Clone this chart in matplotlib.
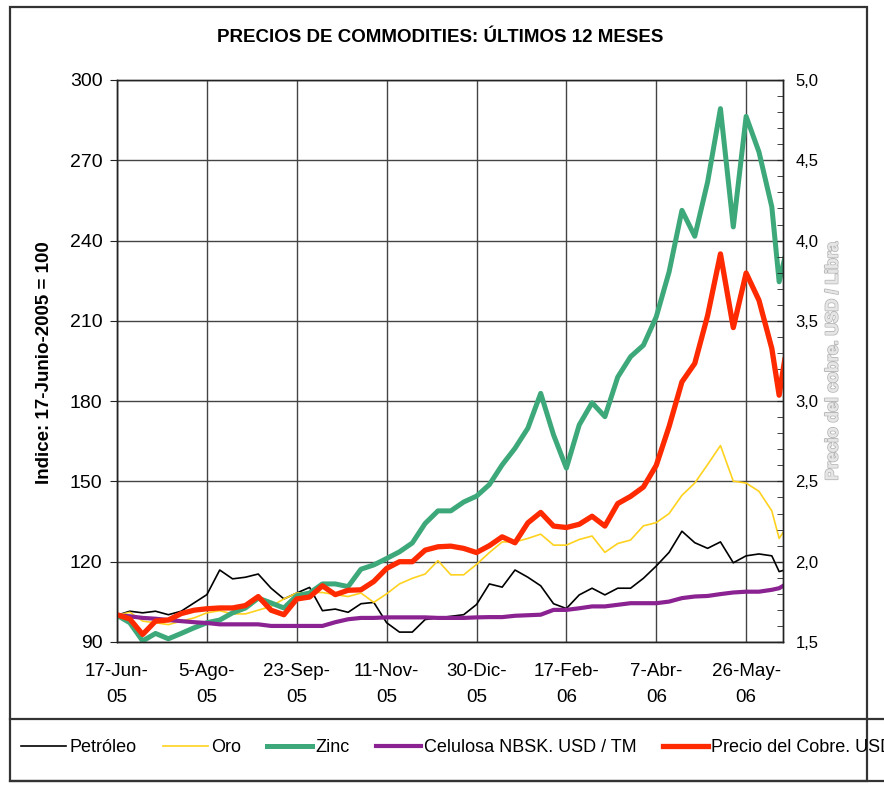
import pandas as pd
import matplotlib
matplotlib.use("Agg")
from matplotlib import pyplot as plt
from matplotlib import patheffects
from matplotlib.lines import Line2D
from matplotlib.patches import Rectangle
from matplotlib.ticker import MultipleLocator, FuncFormatter

plt.rcParams['font.family'] = ['Liberation Sans', 'DejaVu Sans']

# fechas semanales (viernes) + dos datos de la ultima semana
fechas = list(pd.date_range('2005-06-17', periods=52, freq='7D')) + \
    [pd.Timestamp('2006-06-13'), pd.Timestamp('2006-06-16')]

fechas_ticks = ['2005-06-17', '2005-08-05', '2005-09-23', '2005-11-11',
                '2005-12-30', '2006-02-17', '2006-04-07', '2006-05-26']
etiquetas_x = ['17-Jun-\n05', '5-Ago-\n05', '23-Sep-\n05', '11-Nov-\n05',
               '30-Dic-\n05', '17-Feb-\n06', '7-Abr-\n06', '26-May-\n06']

# indices 17-Jun-2005 = 100
petroleo = [100, 101.5, 100.9, 101.5, 100.2, 101.5, 104.6, 107.7, 116.9, 113.6,
            114.2, 115.4, 110.1, 106.1, 108.3, 110.4, 101.7, 102.3, 101.1, 104.3,
            104.8, 97.2, 93.7, 93.7, 98.4, 99.0, 99.6, 100.2, 104.0, 111.7,
            110.5, 116.9, 114.2, 111.0, 104.3, 102.5, 107.6, 110.1, 107.6, 110.1,
            110.1, 113.8, 118.4, 123.5, 131.4, 127.1, 125.0, 127.4, 119.6, 122.2,
            122.9, 122.2, 116.3, 116.9]
oro = [100, 101.1, 97.8, 97.2, 96.5, 97.8, 99.0, 100.9, 101.7, 100.5,
       100.5, 101.9, 103.3, 106.1, 108.3, 108.5, 108.5, 107.7, 107.0, 108.3,
       104.8, 108.0, 111.7, 113.8, 115.4, 120.4, 115.1, 115.1, 119.0, 123.4,
       127.4, 127.4, 128.7, 130.3, 126.2, 126.2, 128.3, 129.6, 123.5, 126.8,
       128.1, 133.4, 134.6, 138.0, 144.8, 149.4, 156.3, 163.4, 150.1, 149.4,
       146.3, 139.0, 128.7, 131.8]
zinc = [100, 97.2, 90.4, 93.2, 91.2, 93.2, 95.3, 97.2, 98.2, 100.9,
        102.7, 106.4, 104.6, 102.7, 107.3, 108.3, 111.7, 111.7, 110.7, 117.2,
        118.8, 121.2, 123.7, 127.0, 134.3, 139.0, 139.0, 142.3, 144.5, 148.8,
        156.2, 162.4, 169.9, 182.9, 167.4, 155.0, 171.1, 179.4, 174.2, 189.0,
        196.6, 200.9, 211.5, 228.3, 251.3, 241.6, 261.9, 289.3, 245.1, 286.4,
        273.1, 252.6, 224.6, 233.3]
celulosa = [100, 99.6, 99.0, 98.7, 98.2, 97.8, 97.4, 97.1, 96.6, 96.6,
            96.6, 96.6, 96.0, 96.0, 96.0, 96.0, 96.0, 97.4, 98.5, 99.0,
            99.0, 99.2, 99.2, 99.2, 99.2, 99.0, 99.0, 99.0, 99.2, 99.3,
            99.3, 99.8, 100.0, 100.2, 102.0, 102.0, 102.6, 103.3, 103.3, 103.9,
            104.5, 104.5, 104.5, 105.1, 106.4, 107.0, 107.2, 107.9, 108.5, 108.8,
            108.8, 109.5, 110.1, 111.3]
# precio del cobre, USD / libra
cobre = [1.67, 1.643, 1.547, 1.63, 1.637, 1.677, 1.698, 1.707, 1.712, 1.712,
         1.727, 1.783, 1.698, 1.67, 1.768, 1.78, 1.85, 1.795, 1.822, 1.825,
         1.877, 1.958, 2.0, 2.0, 2.072, 2.093, 2.097, 2.083, 2.057, 2.1,
         2.155, 2.118, 2.242, 2.307, 2.222, 2.213, 2.233, 2.283, 2.222, 2.362,
         2.407, 2.465, 2.6, 2.842, 3.12, 3.235, 3.533, 3.917, 3.458, 3.798,
         3.628, 3.328, 3.037, 3.255]

W, H = 884, 789


def fx(p):
    return p / W


def fy(p):
    return 1 - p / H


inicio = fechas[0]
dias = [(f - inicio).days for f in fechas]
dias_ticks = [(pd.Timestamp(f) - inicio).days for f in fechas_ticks]

fig = plt.figure(figsize=(W / 100, H / 100), dpi=100)
ax = fig.add_axes([fx(117), fy(642), fx(783) - fx(117), fy(80) - fy(642)])
ax2 = ax.twinx()

l1, = ax.plot(dias, petroleo, color='black', lw=1.2, label='Petróleo')
l2, = ax.plot(dias, oro, color='#FFD21F', lw=1.2, label='Oro')
l3, = ax.plot(dias, zinc, color='#3DA879', lw=3.6, label='Zinc')
l4, = ax.plot(dias, celulosa, color='#8B2291', lw=3.0, label='Celulosa NBSK. USD / TM')
l5, = ax2.plot(dias, cobre, color='#FF2A00', lw=3.8, label='Precio del Cobre. USD / Libra')

ax.set_xlim(0, 363.1)
ax.set_ylim(90, 300)
ax2.set_ylim(1.5, 5.0)

ax.set_xticks(dias_ticks)
ax.set_xticklabels(etiquetas_x, fontsize=13.5, linespacing=1.7)
ax.yaxis.set_major_locator(MultipleLocator(30))
ax.tick_params(axis='x', length=0, pad=15)
ax.tick_params(axis='y', labelsize=14, length=5, direction='out', pad=5.5, color='#222')
ax.grid(True, color='#444444', lw=1.0)

ax2.yaxis.set_major_locator(MultipleLocator(0.5))
ax2.yaxis.set_minor_locator(MultipleLocator(0.1))
ax2.yaxis.set_major_formatter(FuncFormatter(lambda v, p: f"{v:.1f}".replace('.', ',')))
ax2.tick_params(axis='y', which='both', direction='in', length=4, color='#222')
ax2.tick_params(axis='y', which='major', labelsize=12, pad=9)

for a in (ax, ax2):
    for s in a.spines.values():
        s.set_color('#222222')
        s.set_linewidth(1.0)
ax.spines['top'].set_color('#555555')

fig.text(fx(440), fy(38), 'PRECIOS DE COMMODITIES: ÚLTIMOS 12 MESES',
         ha='center', va='center', fontsize=13.5, fontweight='bold')
fig.text(fx(45), fy(363), 'Indice: 17-Junio-2005 = 100', rotation=90,
         ha='center', va='center', fontsize=13.5, fontweight='bold')
fig.text(fx(833), fy(361), 'Precio del cobre. USD / Libra', rotation=90,
         ha='center', va='center', fontsize=12.5, fontweight='bold', color='#E6E6E6',
         path_effects=[patheffects.withStroke(linewidth=1.4, foreground='#B8B8B8'),
                       patheffects.Normal()])

# marco del grafico y caja de leyenda
fig.add_artist(Rectangle((fx(10), fy(781)), fx(867) - fx(10), fy(7) - fy(781),
                         transform=fig.transFigure, fill=False, lw=1.6, ec='#333333'))
for yy in (719, 781):
    fig.add_artist(Line2D([fx(10), 1], [fy(yy), fy(yy)], transform=fig.transFigure,
                          color='#333333', lw=1.6))

fig.legend(handles=[l1, l2, l3, l4, l5], ncol=5, loc='center left',
           bbox_to_anchor=(fx(12), fy(748)), frameon=False, fontsize=13,
           handlelength=2.5, handletextpad=0.2, columnspacing=1.42, borderpad=0)

fig.savefig('out.png', dpi=100, facecolor='white')
